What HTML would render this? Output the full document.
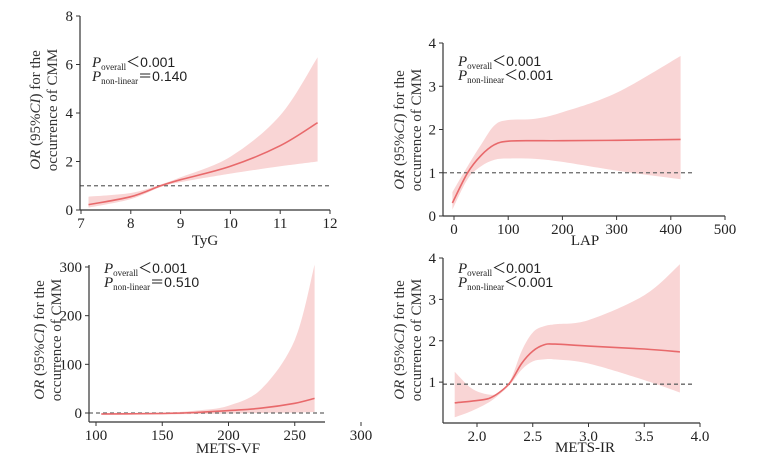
<!DOCTYPE html>
<html><head><meta charset="utf-8"><style>
html,body{margin:0;padding:0;background:#fff}
svg{display:block;font-family:"Liberation Serif",serif}
</style></head><body>
<svg id="chart" width="764" height="457" viewBox="0 0 764 457" xmlns="http://www.w3.org/2000/svg"></svg>
<script>
// Panel A: TyG
const tygX=[7.15,8,8.6,9,10,11,11.75];
const tygOR=[0.22,0.55,1.0,1.25,1.8,2.65,3.6];
const tygLo=[0.1,0.45,0.95,1.15,1.5,1.8,2.0];
const tygHi=[0.55,0.7,1.05,1.35,2.2,3.9,6.3];
const tygXTicks=[7,8,9,10,11,12];
const tygYTicks=[0,2,4,6,8];
// Panel B: LAP
const lapX=[-3,25,50,75,100,150,200,300,418];
const lapOR=[0.3,1.0,1.4,1.65,1.73,1.74,1.74,1.75,1.77];
const lapLo=[0.15,0.85,1.15,1.3,1.33,1.32,1.25,1.05,0.85];
const lapHi=[0.55,1.15,1.65,2.1,2.22,2.25,2.4,2.85,3.7];
const lapXTicks=[0,100,200,300,400,500];
const lapYTicks=[0,1,2,3,4];
// Panel C: METS-VF
const vfX=[104,150,175,200,225,250,265];
const vfOR=[-2,-1,1,5,10,20,30];
const vfLo=[-4,-3,-2,-1,0,1,2];
const vfHi=[0,1,5,15,50,150,305];
const vfXTicks=[100,150,200,250,300];
const vfYTicks=[0,100,200,300];
// Panel D: METS-IR
const irX=[1.8,1.95,2.1,2.2,2.3,2.4,2.5,2.6,2.7,3.0,3.5,3.82];
const irOR=[0.5,0.54,0.6,0.75,1.0,1.45,1.75,1.9,1.92,1.87,1.8,1.73];
const irLo=[0.15,0.3,0.5,0.7,0.95,1.3,1.5,1.55,1.55,1.45,1.05,0.75];
const irHi=[1.25,0.85,0.7,0.75,1.05,1.75,2.2,2.35,2.4,2.5,3.1,3.85];
const irXTicks=["2.0","2.5","3.0","3.5","4.0"];
const irYTicks=[1,2,3,4];

const NS="http://www.w3.org/2000/svg";
const svg=document.getElementById('chart');
function mk(tag,attrs,parent){const e=document.createElementNS(NS,tag);for(const k in attrs)e.setAttribute(k,attrs[k]);(parent||svg).appendChild(e);return e;}
function spline(pts){
  let d="M"+pts[0][0].toFixed(1)+","+pts[0][1].toFixed(1);
  for(let i=0;i<pts.length-1;i++){
    const p0=pts[Math.max(0,i-1)],p1=pts[i],p2=pts[i+1],p3=pts[Math.min(pts.length-1,i+2)];
    const c1=[p1[0]+(p2[0]-p0[0])/6,p1[1]+(p2[1]-p0[1])/6];
    const c2=[p2[0]-(p3[0]-p1[0])/6,p2[1]-(p3[1]-p1[1])/6];
    d+=" C"+c1[0].toFixed(1)+","+c1[1].toFixed(1)+" "+c2[0].toFixed(1)+","+c2[1].toFixed(1)+" "+p2[0].toFixed(1)+","+p2[1].toFixed(1);
  }
  return d;
}
function panel(o){
  const g=mk('g',{});
  
  
  const sx=v=>o.x0px+(v-o.x0)*(o.x1px-o.x0px)/(o.x1-o.x0);
  const sy=v=>o.y0px+(v-o.y0)*(o.y1px-o.y0px)/(o.y1-o.y0);
  const up=o.xs.map((x,i)=>[sx(x),sy(o.hi[i])]);
  const lo=o.xs.map((x,i)=>[sx(x),sy(o.lo[i])]).reverse();
  let dl=spline(lo).replace(/^M/,"L");
  const band=mk('path',{d:spline(up)+" "+dl+" Z",fill:"#f9d5d5",stroke:"none"},g);
  
  
  const ref=mk('line',{x1:o.axX,x2:o.refEnd,y1:sy(o.ref),y2:sy(o.ref),stroke:"#666","stroke-width":1.3,"stroke-dasharray":"4,3"},g);
  
  
  const ln=mk('path',{d:spline(o.xs.map((x,i)=>[sx(x),sy(o.or[i])])),fill:"none",stroke:"#e8696b","stroke-width":1.6},g);
  
  
  const ya=mk('line',{x1:o.axX,x2:o.axX,y1:o.axYtop,y2:o.axY,stroke:"#333","stroke-width":1.2},g);
  
  
  const xa=mk('line',{x1:o.axX,x2:o.axXend,y1:o.axY,y2:o.axY,stroke:"#333","stroke-width":1.2},g);
  
  
  o.yt.forEach(v=>{
    const y=sy(v);
    mk('line',{x1:o.axX-4,x2:o.axX,y1:y,y2:y,stroke:"#333"},g);
    const t=mk('text',{x:o.axX-7,y:y+5,"text-anchor":"end","font-size":15,fill:"#222"},g);
    t.textContent=v;
    
    
  });
  o.xt.forEach(v=>{
    const x=sx(parseFloat(v));
    mk('line',{x1:x,x2:x,y1:o.axY,y2:o.axY+4,stroke:"#333"},g);
    const t=mk('text',{x:x,y:o.axY+18,"text-anchor":"middle","font-size":15,fill:"#222"},g);
    t.textContent=v;
    
    
  });
  const xt=mk('text',{x:o.xtX,y:o.xtY,"text-anchor":"middle","font-size":15,fill:"#222"},g);
  xt.textContent=o.xlabel;
  
  
  const yt=mk('text',{transform:`translate(${o.ytX},${o.ytY}) rotate(-90)`,"text-anchor":"middle","font-size":15,fill:"#333"},g);
  
  
  yt.innerHTML='<tspan x="0" dy="0"><tspan font-style="italic">OR</tspan> (95%<tspan font-style="italic">CI</tspan>) for the</tspan><tspan x="0" dy="17">occurrence of CMM</tspan>';
  const p=mk('text',{x:o.px,y:o.py,"font-size":14,fill:"#222","font-family":"Liberation Sans, sans-serif"},g);
  
  
  p.innerHTML=`<tspan x="${o.px}" font-family="Liberation Serif" font-style="italic" font-size="15">P</tspan><tspan font-size="9" dy="3" font-family="Liberation Serif">overall</tspan><tspan dy="-3" font-family="Noto Sans CJK SC">＜</tspan><tspan>0.001</tspan><tspan x="${o.px}" dy="14" font-family="Liberation Serif" font-style="italic" font-size="15">P</tspan><tspan font-size="9" dy="3" font-family="Liberation Serif">non-linear</tspan><tspan dy="-3" font-family="Noto Sans CJK SC">${o.p2op}</tspan><tspan>${o.p2}</tspan>`;
}
panel({name:'panel-tyg',xs:tygX,or:tygOR,lo:tygLo,hi:tygHi,xt:tygXTicks,yt:tygYTicks,
  x0:7,x1:12,x0px:81,x1px:330,y0:0,y1:8,y0px:210,y1px:16,axX:80,axXend:330,axY:210,axYtop:16,
  ref:1,refEnd:330,xlabel:'TyG',xtX:205,xtY:245,ytX:40,ytY:110,px:92,py:67,p2op:'＝',p2:'0.140'});
panel({name:'panel-lap',xs:lapX,or:lapOR,lo:lapLo,hi:lapHi,xt:lapXTicks,yt:lapYTicks,
  x0:0,x1:500,x0px:454,x1px:725,y0:0,y1:4,y0px:216,y1px:43,axX:443,axXend:725,axY:216,axYtop:43,
  ref:1,refEnd:693,xlabel:'LAP',xtX:585,xtY:245,ytX:404,ytY:130,px:458,py:66,p2op:'＜',p2:'0.001'});
panel({name:'panel-mets-vf',xs:vfX,or:vfOR,lo:vfLo,hi:vfHi,xt:vfXTicks,yt:vfYTicks,
  x0:100,x1:300,x0px:96,x1px:361,y0:0,y1:300,y0px:413,y1px:267,axX:89,axXend:325,axY:422,axYtop:265,
  ref:0,refEnd:325,xlabel:'METS-VF',xtX:228,xtY:453,ytX:44,ytY:340,px:104,py:273,p2op:'＝',p2:'0.510'});
panel({name:'panel-mets-ir',xs:irX,or:irOR,lo:irLo,hi:irHi,xt:irXTicks,yt:irYTicks,
  x0:2,x1:4,x0px:477,x1px:700,y0:0,y1:4,y0px:423.5,y1px:258,axX:443,axXend:700,axY:423,axYtop:258,
  ref:0.95,refEnd:693,xlabel:'METS-IR',xtX:585,xtY:452,ytX:404,ytY:340,px:458,py:273,p2op:'＜',p2:'0.001'});
</script>
</body></html>
